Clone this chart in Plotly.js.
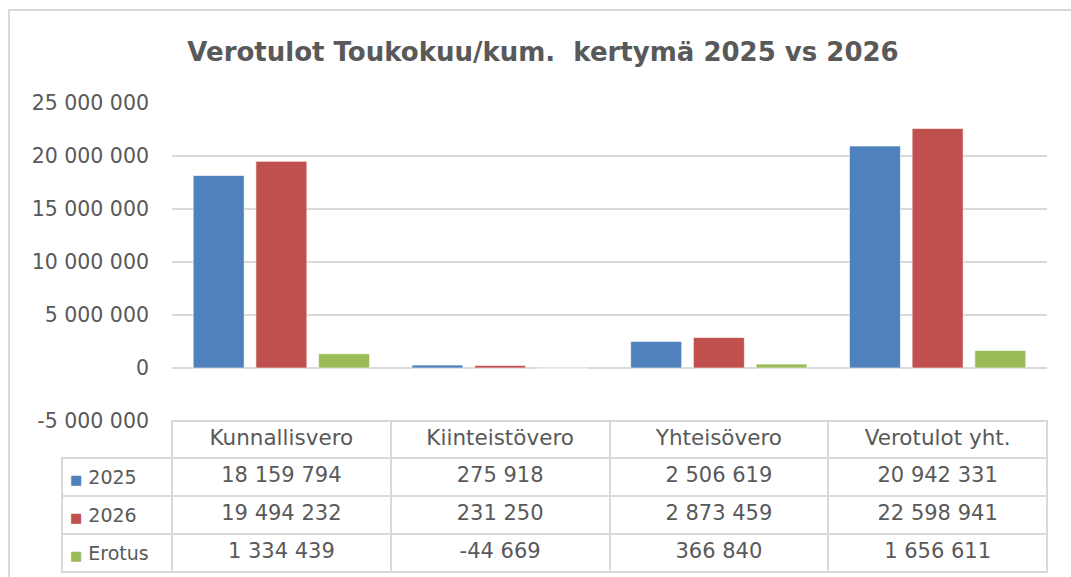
<!DOCTYPE html>
<html>
<head>
<meta charset="utf-8">
<script src="https://cdn.plot.ly/plotly-3.0.1.min.js"></script>
<style>html,body{margin:0;padding:0;background:#fff;}#chart{width:1071px;height:577px;}</style>
</head>
<body>
<div id="chart"></div>
<script>
const categories = ['Kunnallisvero', 'Kiinteistövero', 'Yhteisövero', 'Verotulot yht.'];
const seriesNames = ['2025', '2026', 'Erotus'];
const values2025 = [18159794, 275918, 2506619, 20942331];
const values2026 = [19494232, 231250, 2873459, 22598941];
const valuesErotus = [1334439, -44669, 366840, 1656611];
const seriesColors = ['#4F81BD', '#C0504D', '#9BBB59'];
const yTickVals = [-5000000, 0, 5000000, 10000000, 15000000, 20000000, 25000000];
const yTickText = ['-5 000 000', '0', '5 000 000', '10 000 000', '15 000 000', '20 000 000', '25 000 000'];
const titleText = 'Verotulot Toukokuu/kum.\u00a0 kertymä 2025 vs 2026';

const W = 1071, H = 577;
const px = v => v / W;
const py = v => 1 - v / H;
const FONT = 'DejaVu Sans, sans-serif';
const GREY = '#595959';
const LINE = '#d9d9d9';
const nb = s => s.replace(/ /g, '\u00a0');

function fmt(n) {
  const s = String(Math.abs(n)).replace(/\B(?=(\d{3})+(?!\d))/g, '\u00a0');
  return (n < 0 ? '-' : '') + s;
}

const allSeries = [values2025, values2026, valuesErotus];
const barTraces = allSeries.map((vals, i) => ({
  type: 'bar',
  name: seriesNames[i],
  x: categories,
  y: vals,
  marker: { color: seriesColors[i], line: { color: 'rgba(255,255,255,0.6)', width: 1 } },
  hoverinfo: 'x+y+name',
  showlegend: false
}));

// trailing <br> disables the table's automatic word wrapping
const firstCol = seriesNames.map((n, i) =>
  '<span style="font-size:13px;fill:' + seriesColors[i] + '">■</span>\u00a0' + n + '<br>');
const tableValues = [firstCol].concat(categories.map((c, j) => allSeries.map(s => fmt(s[j]))));

const tableTrace = {
  type: 'table',
  domain: { x: [px(62), px(1047)], y: [0, py(421)] },
  columnwidth: [110, 218.75, 218.75, 218.75, 218.75],
  header: {
    values: [''].concat(categories.map(nb)),
    height: 37,
    align: 'center',
    fill: { color: ['rgba(0,0,0,0)', 'white', 'white', 'white', 'white'] },
    line: { color: ['rgba(0,0,0,0)', LINE, LINE, LINE, LINE], width: 2 },
    font: { family: FONT, size: 21.5, color: GREY }
  },
  cells: {
    values: tableValues,
    height: 38,
    align: ['left', 'center', 'center', 'center', 'center'],
    fill: { color: 'white' },
    line: { color: LINE, width: 2 },
    font: { family: FONT, size: [19, 21, 21, 21, 21], color: GREY }
  }
};

const layout = {
  width: W, height: H,
  margin: { l: 0, r: 0, t: 0, b: 0 },
  paper_bgcolor: 'white',
  plot_bgcolor: 'white',
  showlegend: false,
  barmode: 'group',
  bargap: 0.14,
  bargroupgap: 0.187,
  title: {
    text: titleText,
    x: px(543), xref: 'paper', xanchor: 'center',
    y: py(52), yref: 'paper', yanchor: 'middle',
    font: { family: FONT, size: 26, color: GREY, weight: 'bold' }
  },
  xaxis: {
    domain: [px(172), px(1047)],
    showticklabels: false,
    showgrid: false,
    showline: false,
    zeroline: false,
    ticks: ''
  },
  yaxis: {
    domain: [1 - 421 / H, 1 - 103 / H],
    range: [-5000000, 25000000],
    tickvals: yTickVals,
    ticktext: yTickText,
    showgrid: true,
    gridcolor: LINE,
    gridwidth: 2,
    zeroline: true,
    zerolinecolor: LINE,
    zerolinewidth: 2,
    showline: false,
    ticks: '',
    ticklabelstandoff: 22,
    tickfont: { family: FONT, size: 20.5, color: GREY }
  },
  shapes: [{
    type: 'rect', xref: 'paper', yref: 'paper', layer: 'below',
    x0: px(9), x1: 1.05, y0: -0.05, y1: py(10),
    line: { color: LINE, width: 2 }, fillcolor: 'rgba(0,0,0,0)'
  }]
};

Plotly.newPlot('chart', barTraces.concat([tableTrace]), layout, { displayModeBar: false, staticPlot: true });
</script>
</body>
</html>
